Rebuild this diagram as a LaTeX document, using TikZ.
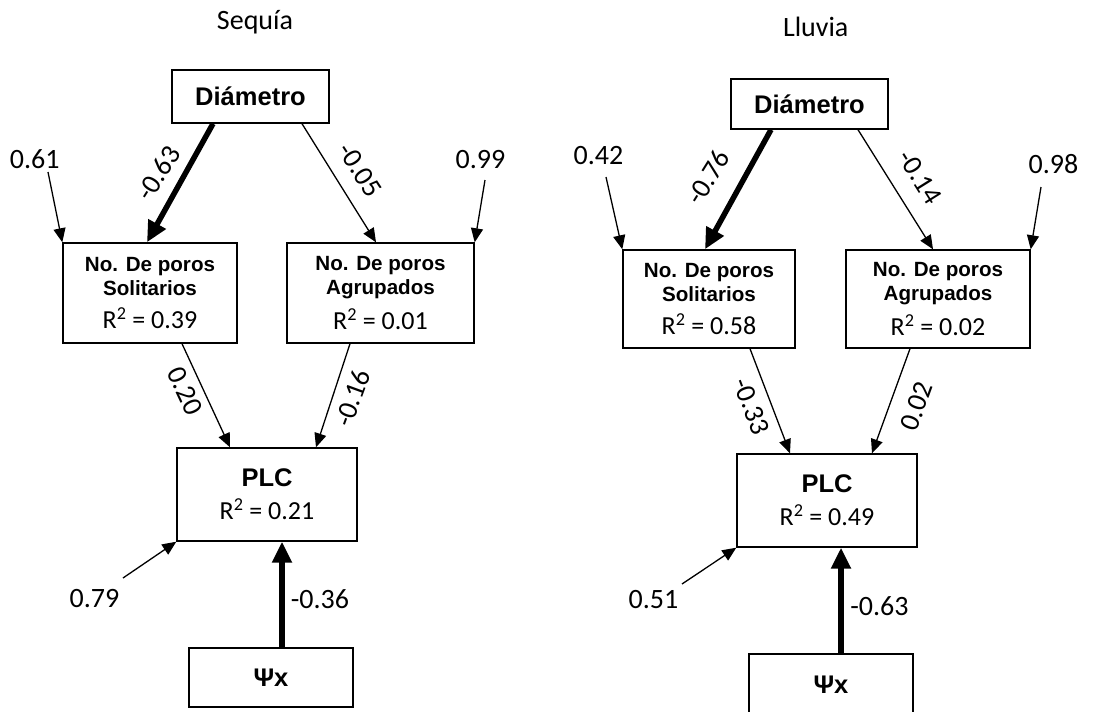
\documentclass[tikz,border=0pt]{standalone}
\usepackage{fontspec}
\setmainfont{Carlito}
\newfontfamily\arialfont{Liberation Sans}
\usetikzlibrary{arrows.meta}

% font sizes used in the path diagrams
\newcommand{\lblfont}{\fontsize{28}{30}\selectfont}
\newcommand{\hdfont}{\arialfont\bfseries\fontsize{25.5}{28}\selectfont}
\newcommand{\subhdfont}{\arialfont\bfseries\fontsize{20.6}{24}\selectfont}
\newcommand{\rsqfont}{\normalfont\fontsize{26}{30}\selectfont}

\begin{document}
\begin{tikzpicture}[x=1pt,y=-1pt,
  box/.style={draw, line width=1.4pt, inner sep=0pt, align=center},
  link/.style={-{Triangle[length=14pt,width=12pt]}, line width=1.3pt},
  heavylink/.style={-{Triangle[length=21pt,width=19pt]}, line width=5.5pt},
  lbl/.style={font=\lblfont, inner sep=0pt}]
\useasboundingbox (0,0) rectangle (1104,712);

% ---------- Sequía ----------
\node[lbl, anchor=base] (t1) at (255,29) {Sequía};
\node[box, minimum width=157pt, minimum height=53pt, font=\hdfont] (dia1) at (250.5,96.5) {Diámetro};
\node[box, minimum width=174pt, minimum height=100pt, font=\subhdfont] (sol1) at (150,293)
  {No. De poros\\ Solitarios\\[9pt] {\rsqfont R\textsuperscript{2} = 0.39}};
\node[box, minimum width=187pt, minimum height=100pt, font=\subhdfont] (agr1) at (380.5,293)
  {No. De poros\\ Agrupados\\[9pt] {\rsqfont R\textsuperscript{2} = 0.01}};
\node[box, minimum width=180pt, minimum height=93pt, font=\hdfont] (plc1) at (267,494.5)
  {PLC\\[5pt] {\rsqfont R\textsuperscript{2} = 0.21}};
\node[box, minimum width=164pt, minimum height=59pt, font=\hdfont] (psi1) at (271,677.5) {Ψx};

\draw[heavylink] ([xshift=-37.5pt]dia1.south) -- ([xshift=-3pt]sol1.north);
\draw[link] ([xshift=51.5pt]dia1.south) -- ([xshift=-4.5pt]agr1.north);
\draw[link] ([xshift=32pt]sol1.south) -- ([xshift=-37pt]plc1.north);
\draw[link] ([xshift=-30.5pt]agr1.south) -- ([xshift=49pt]plc1.north);
\draw[heavylink] ([xshift=11pt]psi1.north) -- ([xshift=15pt]plc1.south);

\node[lbl, rotate=58] (c11) at (158.3,173.3) {-0.63};
\node[lbl, rotate=-57] (c12) at (360,169.7) {-0.05};
\node[lbl, rotate=-65] (c13) at (185,390.7) {0.20};
\node[lbl, rotate=70] (c14) at (352.3,398.3) {-0.16};
\node[lbl, anchor=base] (c15) at (320,608) {-0.36};

\node[lbl, anchor=base] (e11) at (34.7,168) {0.61};
\node[lbl, anchor=base] (e12) at (480.5,168) {0.99};
\node[lbl, anchor=base] (e13) at (94.5,607) {0.79};
\coordinate (s11) at (48,172);
\coordinate (s12) at (485,180);
\coordinate (s13) at (123,578);
\draw[link] (s11) -- (sol1.north west);
\draw[link] (s12) -- (agr1.north east);
\draw[link] (s13) -- (plc1.south west);

% ---------- Lluvia ----------
\node[lbl, anchor=base] (t2) at (815.7,36) {Lluvia};
\node[box, minimum width=157pt, minimum height=50pt, font=\hdfont] (dia2) at (809.5,104) {Diámetro};
\node[box, minimum width=172pt, minimum height=98pt, font=\subhdfont] (sol2) at (709,299)
  {No. De poros\\ Solitarios\\[9pt] {\rsqfont R\textsuperscript{2} = 0.58}};
\node[box, minimum width=184pt, minimum height=98pt, font=\subhdfont] (agr2) at (938,299)
  {No. De poros\\ Agrupados\\[9pt] {\rsqfont R\textsuperscript{2} = 0.02}};
\node[box, minimum width=180pt, minimum height=93pt, font=\hdfont] (plc2) at (827,500.5)
  {PLC\\[5pt] {\rsqfont R\textsuperscript{2} = 0.49}};
\node[box, minimum width=164pt, minimum height=62pt, font=\hdfont] (psi2) at (831,685) {Ψx};

\draw[heavylink] ([xshift=-38.5pt]dia2.south) -- ([xshift=-4pt]sol2.north);
\draw[link] ([xshift=48.5pt]dia2.south) -- ([xshift=-5pt]agr2.north);
\draw[link] ([xshift=41pt]sol2.south) -- ([xshift=-37pt]plc2.north);
\draw[link] ([xshift=-28pt]agr2.south) -- ([xshift=45pt]plc2.north);
\draw[heavylink] ([xshift=10pt]psi2.north) -- ([xshift=14pt]plc2.south);

\node[lbl, rotate=58] (c21) at (708,177) {-0.76};
\node[lbl, rotate=-58] (c22) at (920,177.3) {-0.14};
\node[lbl, rotate=-69] (c23) at (751.7,406.7) {-0.33};
\node[lbl, rotate=70] (c24) at (916.7,406) {0.02};
\node[lbl, anchor=base] (c25) at (879.5,615) {-0.63};

\node[lbl, anchor=base] (e21) at (598.5,164) {0.42};
\node[lbl, anchor=base] (e22) at (1053.5,173) {0.98};
\node[lbl, anchor=base] (e23) at (653.5,608) {0.51};
\coordinate (s21) at (606,177);
\coordinate (s22) at (1041,187);
\coordinate (s23) at (682,584);
\draw[link] (s21) -- (sol2.north west);
\draw[link] (s22) -- (agr2.north east);
\draw[link] (s23) -- (plc2.south west);
\end{tikzpicture}
\end{document}
